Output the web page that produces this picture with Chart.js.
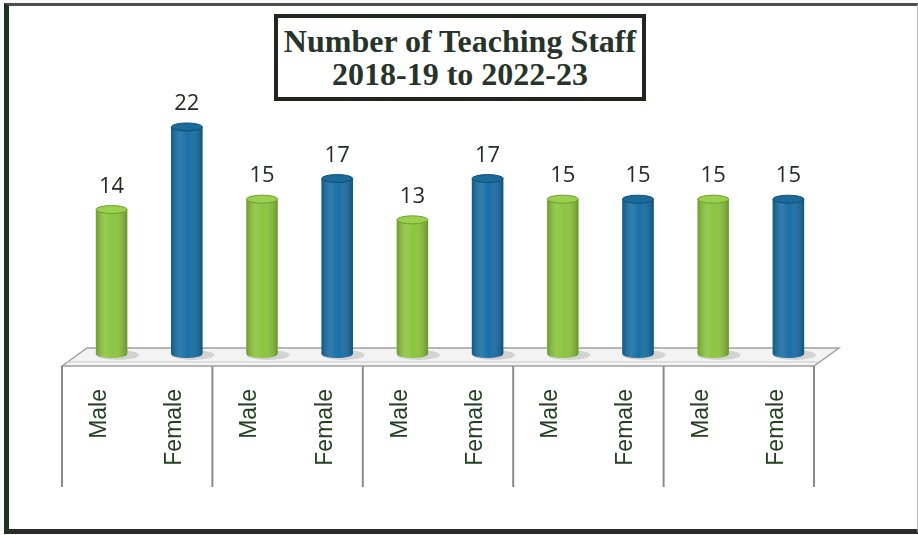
<!DOCTYPE html>
<html>
<head>
<meta charset="utf-8">
<title>Number of Teaching Staff</title>
<script src="https://cdn.jsdelivr.net/npm/chart.js@4"></script>
<style>
  html, body { margin: 0; padding: 0; background: #fff; }
  #wrap { position: relative; width: 918px; height: 535px; overflow: hidden; background: #fafafa; }
  #frame {
    position: absolute; left: 4px; top: 3px; width: 908px; height: 523px;
    background: #fff;
    border-left: 5px solid #1d3320; border-top: 3px solid #4e4e4e;
    border-bottom: 5px solid #2a2a2a; border-right: 1px solid #bbbbbb;
  }
  #chart { position: absolute; left: 0; top: 0; }
  #title {
    position: absolute; left: 274px; top: 14px; width: 364px; height: 72px;
    padding-top: 7px; border: 4px solid #1e261e; background: #fff;
    font-family: "Liberation Serif", serif; font-weight: bold; font-size: 32px;
    line-height: 33px; color: #27342a; text-align: center; white-space: nowrap;
  }
</style>
</head>
<body>
<div id="wrap">
  <div id="frame"></div>
  <canvas id="chart" width="918" height="535"></canvas>
  <div id="title">Number of Teaching Staff<br>2018-19 to 2022-23</div>
</div>
<script>
// Data
const categories = ['Male', 'Female', 'Male', 'Female', 'Male', 'Female', 'Male', 'Female', 'Male', 'Female'];
const staffCounts = [14, 22, 15, 17, 13, 17, 15, 15, 15, 15];
const yRange = [0, 25];

// Colours
const maleColor = '#8cc43f';
const femaleColor = '#1a6fa5';
const barColors = categories.map(c => c === 'Male' ? maleColor : femaleColor);
const topColors = categories.map(c => c === 'Male' ? '#9bd04f' : '#1c6a9a');
const rimColors = categories.map(c => c === 'Male' ? '#6f9e2e' : '#0f4f78');

// Floor, separators, cylinder tops and value labels
const cylinderPlugin = {
    id: 'cylinder',
    beforeDatasetsDraw(chart) {
        const ctx = chart.ctx;
        const xs = chart.scales.x;
        const base = chart.chartArea.bottom;
        const left = xs.left - 12;
        const right = xs.right - 12;
        const catW = (xs.right - xs.left) / categories.length;

        ctx.save();
        // floor
        ctx.beginPath();
        ctx.moveTo(left, base + 12);
        ctx.lineTo(left + 25, base - 6);
        ctx.lineTo(right + 25, base - 6);
        ctx.lineTo(right, base + 12);
        ctx.closePath();
        ctx.fillStyle = '#f3f3f3';
        ctx.fill();
        ctx.strokeStyle = '#a0a0a0';
        ctx.lineWidth = 1.5;
        ctx.stroke();
        ctx.beginPath();
        ctx.moveTo(left + 5, base + 8);
        ctx.lineTo(right + 5, base + 8);
        ctx.strokeStyle = '#c8c8c8';
        ctx.lineWidth = 1;
        ctx.stroke();

        // group separators below the floor
        ctx.strokeStyle = '#8a8a8a';
        ctx.lineWidth = 2;
        for (let k = 0; k <= categories.length; k += 2) {
            const x = left + k * catW;
            ctx.beginPath();
            ctx.moveTo(x, base + 12);
            ctx.lineTo(x, base + 133);
            ctx.stroke();
        }

        // soft shadows on the floor
        const meta = chart.getDatasetMeta(0);
        meta.data.forEach(bar => {
            ctx.beginPath();
            ctx.ellipse(bar.x + 6, base + 1, bar.width / 2 + 6, 5, 0, 0, Math.PI * 2);
            ctx.fillStyle = 'rgba(150,150,150,0.35)';
            ctx.fill();
        });
        ctx.restore();
    },
    afterDatasetsDraw(chart) {
        const ctx = chart.ctx;
        const meta = chart.getDatasetMeta(0);
        ctx.save();
        meta.data.forEach((bar, i) => {
            const w = bar.width;
            const x0 = bar.x - w / 2;
            const ry = 4;

            // bottom cap
            ctx.beginPath();
            ctx.ellipse(bar.x, bar.base, w / 2, ry, 0, 0, Math.PI);
            ctx.fillStyle = barColors[i];
            ctx.fill();

            // round shading across the body
            const g = ctx.createLinearGradient(x0, 0, x0 + w, 0);
            g.addColorStop(0, 'rgba(0,0,0,0.20)');
            g.addColorStop(0.3, 'rgba(255,255,255,0.10)');
            g.addColorStop(0.55, 'rgba(255,255,255,0)');
            g.addColorStop(1, 'rgba(0,0,0,0.25)');
            ctx.beginPath();
            ctx.rect(x0, bar.y, w, bar.base - bar.y);
            ctx.ellipse(bar.x, bar.base, w / 2, ry, 0, 0, Math.PI);
            ctx.fillStyle = g;
            ctx.fill();

            // top cap
            ctx.beginPath();
            ctx.ellipse(bar.x, bar.y, w / 2, ry, 0, 0, Math.PI * 2);
            ctx.fillStyle = topColors[i];
            ctx.fill();
            ctx.strokeStyle = rimColors[i];
            ctx.lineWidth = 1;
            ctx.stroke();

            // value label
            ctx.fillStyle = '#262b26';
            ctx.font = '22px "Open Sans"';
            ctx.textAlign = 'center';
            ctx.textBaseline = 'middle';
            ctx.fillText(String(staffCounts[i]), bar.x, bar.y - 23);
        });
        ctx.restore();
    }
};

new Chart(document.getElementById('chart'), {
    type: 'bar',
    data: {
        labels: categories,
        datasets: [{
            label: 'Teaching Staff',
            data: staffCounts,
            backgroundColor: barColors,
            borderWidth: 0,
            barThickness: 31
        }]
    },
    options: {
        responsive: false,
        animation: false,
        layout: {
            padding: { left: 74, right: 92, top: 96, bottom: 0 }
        },
        plugins: {
            legend: { display: false },
            tooltip: { enabled: false },
            title: { display: false }
        },
        scales: {
            x: {
                offset: true,
                grid: { display: false, drawTicks: false },
                border: { display: false },
                ticks: {
                    autoSkip: false,
                    minRotation: 90,
                    maxRotation: 90,
                    padding: 35,
                    labelOffset: -12,
                    color: '#22401f',
                    font: { family: 'Liberation Sans', size: 23 }
                },
                afterFit(scale) {
                    scale.height = 181;
                }
            },
            y: {
                display: false,
                min: yRange[0],
                max: yRange[1]
            }
        }
    },
    plugins: [cylinderPlugin]
});
</script>
</body>
</html>
